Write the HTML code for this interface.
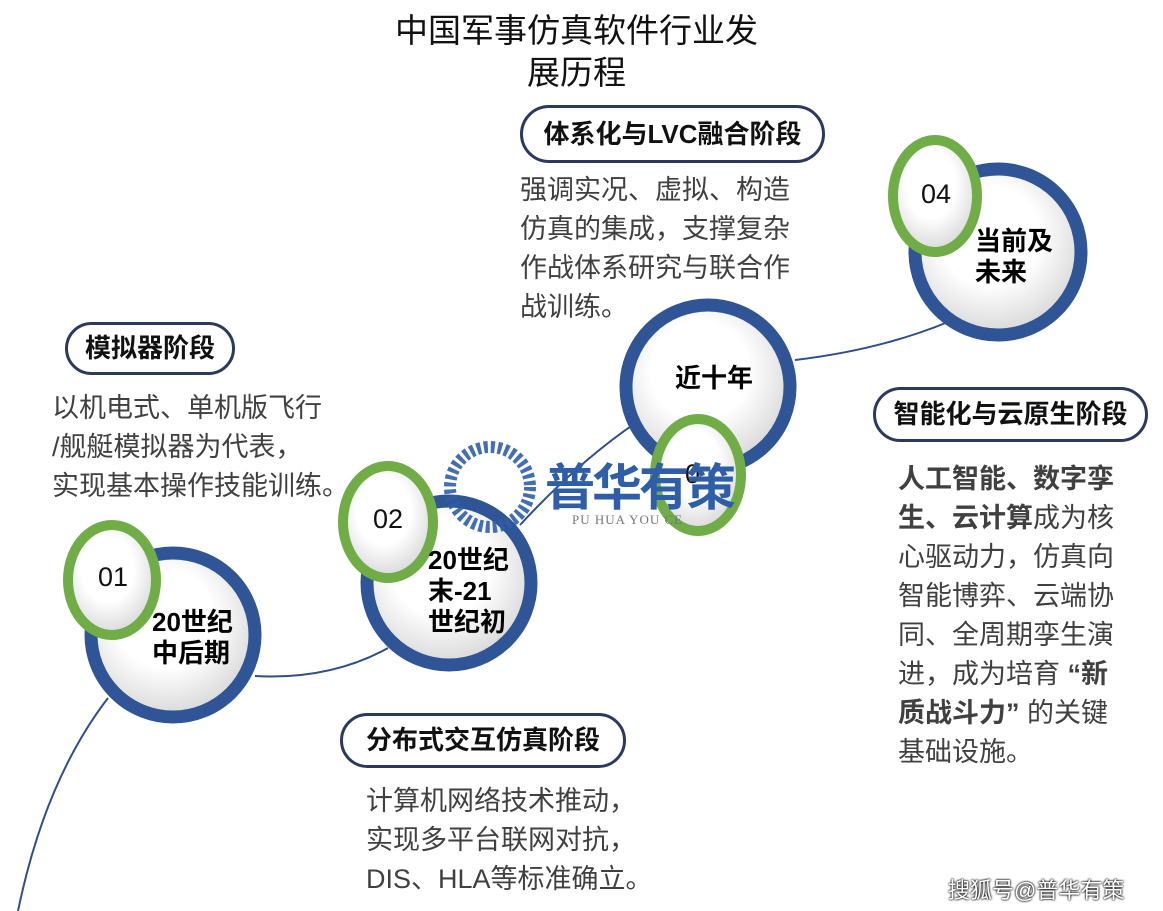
<!DOCTYPE html>
<html><head><meta charset="utf-8"><style>
*{margin:0;padding:0}
body{width:1163px;height:911px;background:#fff;position:relative;overflow:hidden;font-family:"Liberation Sans","Noto Sans CJK SC",sans-serif}
.a{position:absolute;white-space:nowrap}
.pill{position:absolute;border:3px solid #2b3a5c;border-radius:30px;box-sizing:border-box;font-weight:bold;font-size:26px;color:#111;text-align:center;background:#fff}
.t{position:absolute;font-size:27px;color:#404040;line-height:39px;white-space:nowrap}
.c{position:absolute;font-weight:bold;font-size:26px;color:#000;line-height:31px;white-space:nowrap}
.n{position:absolute;font-size:27px;color:#111}
</style></head><body>
<svg width="1163" height="911" style="position:absolute;left:0;top:0">
<defs><radialGradient id="g" cx="45%" cy="40%" r="60%"><stop offset="0.5" stop-color="#fff"/><stop offset="1" stop-color="#d8d8d8"/></radialGradient></defs>
<g fill="none" stroke="#2f4f8a" stroke-width="2">
<path d="M18,911 Q45,780 108,698"/>
<path d="M255,676 Q330,680 388,648"/>
<path d="M520,525 Q580,460 640,420"/>
<path d="M795,360 Q880,350 948,322"/>
</g>
<g fill="url(#g)" stroke="#2f5597" stroke-width="13">
<circle cx="173" cy="635" r="82"/>
<circle cx="449" cy="583" r="82"/>
<circle cx="708" cy="387" r="82"/>
<circle cx="998" cy="252" r="83"/>
</g>
<g fill="url(#g)" stroke="#70ad47" stroke-width="10">
<ellipse cx="112" cy="580" rx="44" ry="55"/>
<ellipse cx="388" cy="522" rx="45" ry="56"/>
<ellipse cx="698" cy="475" rx="43" ry="56"/>
<ellipse cx="935" cy="196" rx="42" ry="56"/>
</g>
<g opacity="0.9">
<circle cx="490" cy="487" r="40" fill="none" stroke="#2f5ea8" stroke-width="12" stroke-dasharray="4 3"/>
</g>
</svg>
<div class="a" style="left:0;width:1153px;top:10px;text-align:center;font-size:33px;line-height:42px;color:#111">中国军事仿真软件行业发<br>展历程</div>
<div class="pill" style="left:520px;top:105px;width:305px;height:58px;line-height:52px">体系化与LVC融合阶段</div>
<div class="t" style="left:520px;top:171px">强调实况、虚拟、构造<br>仿真的集成，支撑复杂<br>作战体系研究与联合作<br>战训练。</div>
<div class="pill" style="left:65px;top:322px;width:170px;height:53px;line-height:47px">模拟器阶段</div>
<div class="t" style="left:52px;top:389px">以机电式、单机版飞行<br>/舰艇模拟器为代表，<br>实现基本操作技能训练。</div>
<div class="pill" style="left:340px;top:713px;width:286px;height:55px;line-height:49px">分布式交互仿真阶段</div>
<div class="t" style="left:366px;top:782px">计算机网络技术推动，<br>实现多平台联网对抗，<br>DIS、HLA等标准确立。</div>
<div class="pill" style="left:873px;top:387px;width:275px;height:55px;line-height:49px">智能化与云原生阶段</div>
<div class="t" style="left:898px;top:460px"><b>人工智能、数字孪</b><br><b>生、云计算</b>成为核<br>心驱动力，仿真向<br>智能博弈、云端协<br>同、全周期孪生演<br>进，成为培育 <b>“新</b><br><b>质战斗力”</b> 的关键<br>基础设施。</div>
<div class="n" style="left:98px;top:562px">01</div>
<div class="n" style="left:373px;top:504px">02</div>
<div class="n" style="left:685px;top:459px">0</div>
<div class="n" style="left:921px;top:179px">04</div>
<div class="c" style="left:152px;top:607px">20世纪<br>中后期</div>
<div class="c" style="left:428px;top:545px">20世纪<br>末-21<br>世纪初</div>
<div class="c" style="left:675px;top:363px">近十年</div>
<div class="c" style="left:975px;top:226px">当前及<br>未来</div>
<div class="a" style="left:545px;top:448px;font-size:50px;font-weight:bold;color:#2f5ea8;letter-spacing:-3px">普华有策</div>
<div class="a" style="left:572px;top:512px;font-size:13px;color:#777;font-family:'Liberation Serif',serif;letter-spacing:1px">PU HUA YOU CE</div>
<div class="a" style="left:948px;top:873px;font-size:22px;color:#fff;text-shadow:0 0 2px #000,0 0 2px #000">搜狐号@普华有策</div>
</body></html>
